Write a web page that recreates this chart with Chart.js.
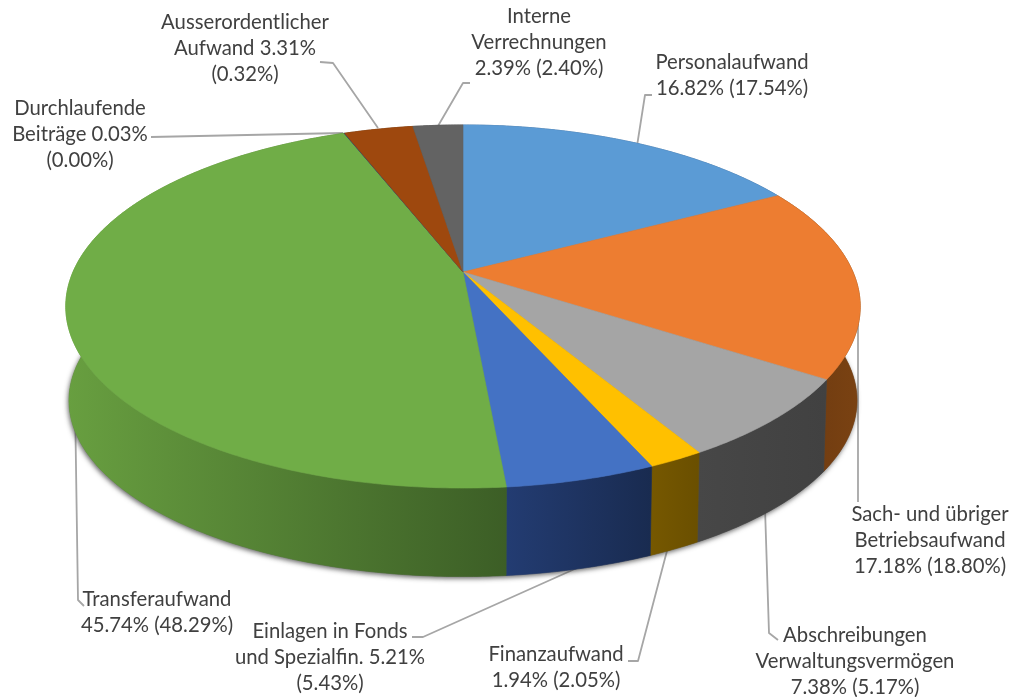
<!DOCTYPE html>
<html><head><meta charset="utf-8">
<style>html,body{margin:0;padding:0;background:#fff}canvas{display:block;filter:blur(0.5px)}</style>
<script src="https://cdn.jsdelivr.net/npm/chart.js@4"></script></head>
<body><canvas id="c" width="1011" height="697"></canvas>
<script>
const categories=["Personalaufwand","Sach- und übriger Betriebsaufwand","Abschreibungen Verwaltungsvermögen","Finanzaufwand","Einlagen in Fonds und Spezialfin.","Transferaufwand","Durchlaufende Beiträge","Ausserordentlicher Aufwand","Interne Verrechnungen"];
const shares=[16.82,17.18,7.38,1.94,5.21,45.74,0.03,3.31,2.39];
const priorShares=[17.54,18.80,5.17,2.05,5.43,48.29,0.00,0.32,2.40];
const topColors=["#5B9BD5","#ED7D31","#A5A5A5","#FFC000","#4472C4","#70AD47","#264478","#9E480E","#636363"];
const wallLeft=["#37608a","#6a3810","#474747","#765800","#233c72","#689f40","#16294a","#5e2b08","#3b3b3b"];
const wallRight=["#37608a","#7a4212","#414141","#6a4f00","#192b50","#3c5e26","#16294a","#5e2b08","#3b3b3b"];
const labelLines=[
 ["Personalaufwand","16.82% (17.54%)"],
 ["Sach- und übriger","Betriebsaufwand","17.18% (18.80%)"],
 ["Abschreibungen","Verwaltungsvermögen","7.38% (5.17%)"],
 ["Finanzaufwand","1.94% (2.05%)"],
 ["Einlagen in Fonds","und Spezialfin. 5.21%","(5.43%)"],
 ["Transferaufwand","45.74% (48.29%)"],
 ["Durchlaufende","Beiträge 0.03%","(0.00%)"],
 ["Ausserordentlicher","Aufwand 3.31%","(0.32%)"],
 ["Interne","Verrechnungen","2.39% (2.40%)"]];
const labelAnchors=[[732,62],[930,514],[855,635],[556,654],[330,631],[157,599],[80,108],[245,22],[539,16]];
const leaders=[
 [[652,95],[645,95],[637,146]],
 [[858,502],[858,290]],
 [[778,640],[769,633],[765,508]],
 [[628,661],[638,661],[668,547]],
 [[412,637],[423,637],[577,568]],
 [[84,606],[78,600],[75,400]],
 [[151,137],[343,133]],
 [[320,62],[333,63],[378,128]],
 [[470,83],[463,83],[438,126]]];
const LINE=26, FX=390/272, FY=175/272, TILT=0.19, DEPTH=95, BX=0.992, BY=0.97, WARP=0.021;

function project(a,angle,base){
  const theta=angle+WARP*Math.sin(angle);
  const u=Math.sin(theta), v=-Math.cos(theta), w=1-TILT*v;
  const sx=base?BX:1, sy=base?BY:1;
  return [a.x+FX*a.outerRadius*u/w*sx, a.y+FY*a.outerRadius*v/w*sy+(base?DEPTH:0)];
}
function rim(a,base,from,to){
  const n=Math.max(2,Math.ceil((to-from)/0.01)),p=[];
  for(let i=0;i<=n;i++)p.push(project(a,from+(to-from)*i/n,base));
  return p;
}
const pie3d={id:'pie3d',
 beforeDatasetsDraw(chart){
  const ctx=chart.ctx, arcs=chart.getDatasetMeta(0).data, Q=Math.PI/2;
  ctx.save();
  ctx.strokeStyle="#a6a6a6";ctx.lineWidth=1.8;ctx.lineJoin="round";
  leaders.forEach(l=>{ctx.beginPath();l.forEach((p,i)=>i?ctx.lineTo(p[0],p[1]):ctx.moveTo(p[0],p[1]));ctx.stroke();});
  // soft shadow below the base
  ctx.save();
  ctx.shadowColor="rgba(50,50,50,0.75)";ctx.shadowBlur=5;ctx.shadowOffsetX=-1;ctx.shadowOffsetY=2;
  ctx.fillStyle="#666";ctx.beginPath();
  rim(arcs[0],true,0,2*Math.PI).forEach((p,i)=>i?ctx.lineTo(p[0],p[1]):ctx.moveTo(p[0],p[1]));
  ctx.closePath();ctx.fill();ctx.restore();
  // walls
  arcs.forEach((a,i)=>{
    const s=a.startAngle+Q,e=a.endAngle+Q;
    const t=rim(a,false,s,e),b=rim(a,true,s,e).reverse(),pts=t.concat(b);
    const xs=pts.map(p=>p[0]);
    const g=ctx.createLinearGradient(Math.min(...xs),0,Math.max(...xs),0);
    g.addColorStop(0,wallLeft[i]);g.addColorStop(1,wallRight[i]);
    ctx.fillStyle=g;ctx.strokeStyle=g;ctx.lineWidth=0.6;
    ctx.beginPath();pts.forEach((p,j)=>j?ctx.lineTo(p[0],p[1]):ctx.moveTo(p[0],p[1]));ctx.closePath();ctx.fill();ctx.stroke();
  });
  // top faces
  arcs.forEach((a,i)=>{
    const s=a.startAngle+Q,e=a.endAngle+Q;
    ctx.fillStyle=a.options.backgroundColor;ctx.strokeStyle=a.options.backgroundColor;ctx.lineWidth=0.6;
    ctx.beginPath();ctx.moveTo(a.x,a.y);
    rim(a,false,s,e).forEach(p=>ctx.lineTo(p[0],p[1]));
    ctx.closePath();ctx.fill();ctx.stroke();
  });
  // labels
  ctx.fillStyle="#404040";ctx.font='20.3px Lato';ctx.textAlign="center";ctx.textBaseline="middle";
  labelLines.forEach((ls,i)=>ls.forEach((t,j)=>ctx.fillText(t,labelAnchors[i][0],labelAnchors[i][1]+j*LINE)));
  ctx.restore();
  return false;
 }};
new Chart(document.getElementById('c'),{type:'pie',
 data:{labels:categories,datasets:[{data:shares,backgroundColor:topColors,borderWidth:0}]},
 options:{responsive:false,animation:false,
  layout:{padding:{left:0,right:85,top:0,bottom:153}},
  plugins:{legend:{display:false},tooltip:{enabled:false}}},
 plugins:[pie3d]});
</script></body></html>
